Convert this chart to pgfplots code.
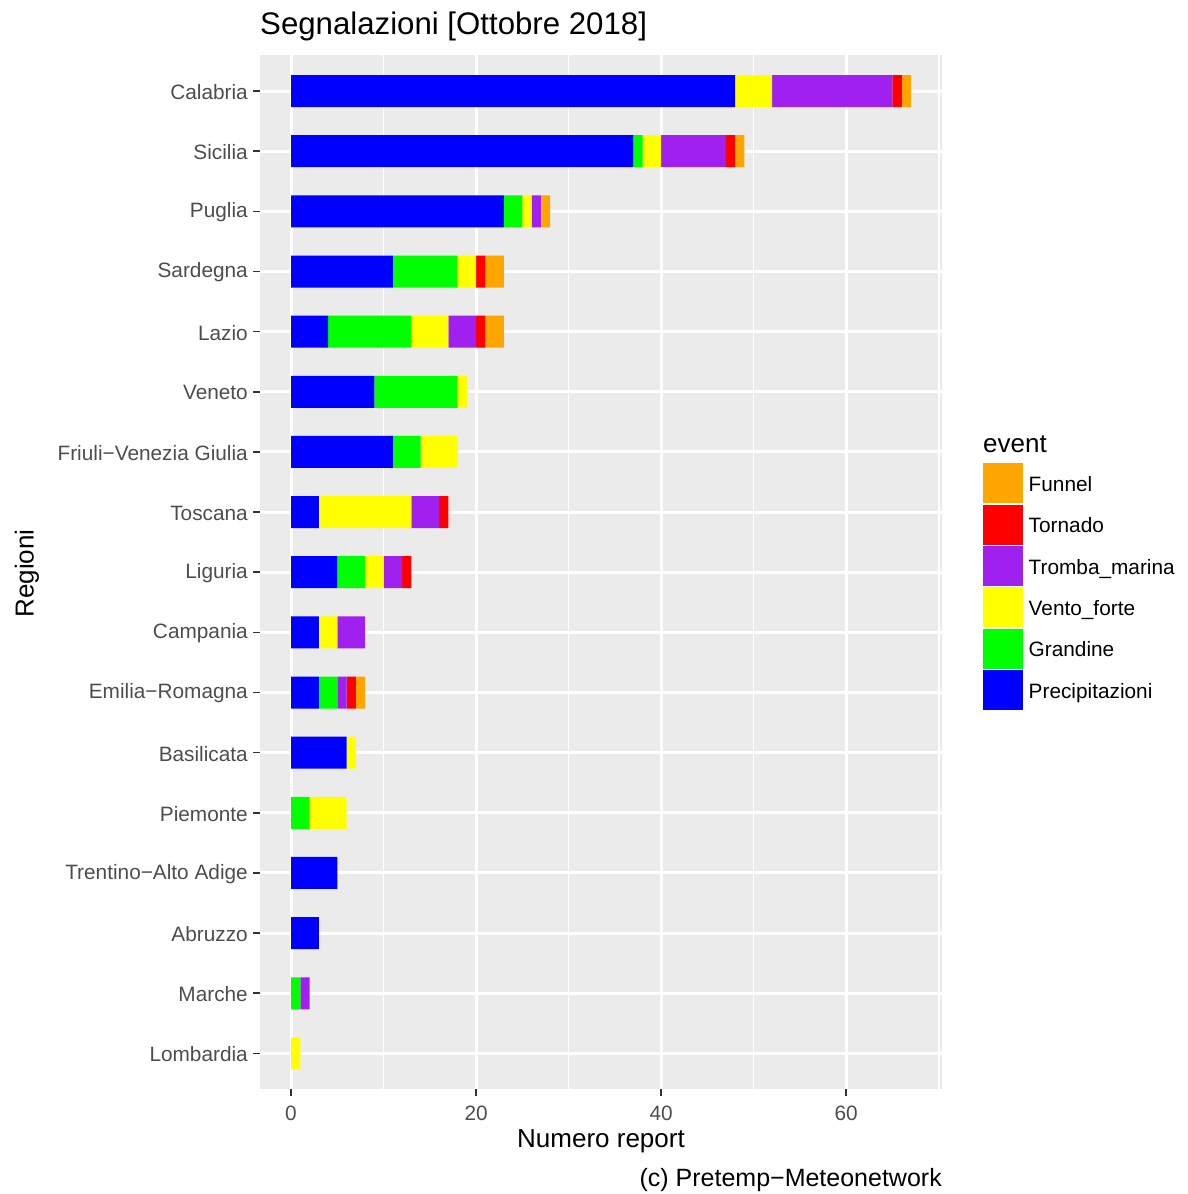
\documentclass[border=0pt]{standalone}
\usepackage{fontspec}
\setmainfont{Liberation Sans}
\usepackage{pgfplots}
\usepackage{pgfplotstable}
\pgfplotsset{compat=1.18}

\definecolor{panel}{RGB}{235,235,235}
\definecolor{tickgrey}{RGB}{51,51,51}
\definecolor{labgrey}{RGB}{77,77,77}
\definecolor{cPrec}{RGB}{0,0,255}
\definecolor{cGrand}{RGB}{0,255,0}
\definecolor{cVento}{RGB}{255,255,0}
\definecolor{cTromba}{RGB}{160,32,240}
\definecolor{cTorn}{RGB}{255,0,0}
\definecolor{cFunnel}{RGB}{255,165,0}

% y: 1 = Lombardia ... 17 = Calabria
% P=Precipitazioni G=Grandine V=Vento_forte T=Tromba_marina R=Tornado F=Funnel
\pgfplotstableread{
y  P  G  V  T  R  F
17 48 0  4  13 1  1
16 37 1  2  7  1  1
15 23 2  1  1  0  1
14 11 7  2  0  1  2
13 4  9  4  3  1  2
12 9  9  1  0  0  0
11 11 3  4  0  0  0
10 3  0  10 3  1  0
9  5  3  2  2  1  0
8  3  0  2  3  0  0
7  3  2  0  1  1  1
6  6  0  1  0  0  0
5  0  2  4  0  0  0
4  5  0  0  0  0  0
3  3  0  0  0  0  0
2  0  1  0  1  0  0
1  0  0  1  0  0  0
}\regioni

\newcommand{\fs}[1]{\fontsize{#1}{#1}\selectfont}

\begin{document}
\begin{tikzpicture}
\begin{axis}[
  at={(260pt,104.5pt)}, anchor=south west,
  scale only axis, width=682pt, height=1034.5pt,
  xbar stacked, bar width=32pt,
  xmin=-3.35, xmax=70.35, ymin=0.4, ymax=17.6,
  axis background/.style={fill=panel},
  axis line style={draw=none},
  xtick={0,20,40,60}, minor xtick={10,30,50,70},
  ytick={1,...,17},
  yticklabels={Lombardia,Marche,Abruzzo,Trentino−Alto Adige,Piemonte,Basilicata,Emilia−Romagna,Campania,Liguria,Toscana,Friuli−Venezia Giulia,Veneto,Lazio,Sardegna,Puglia,Sicilia,Calabria},
  tick pos=left, tick align=outside,
  major tick length=7pt, minor tick length=0pt,
  tick style={tickgrey, line width=1.6pt},
  xmajorgrids, ymajorgrids, xminorgrids,
  major grid style={white, line width=3pt},
  minor grid style={white, line width=1.6pt},
  /pgf/number format/assume math mode=true,
  ticklabel style={font=\fs{20.8}, text=labgrey, inner sep=0pt},
  yticklabel style={anchor=east, xshift=-5pt, yshift=-1pt},
  xticklabel style={anchor=base, yshift=-24pt},
  reverse legend,
  legend image code/.code={\fill[#1] (0pt,-18.5pt) rectangle (40pt,21.5pt);},
  legend style={draw=none, fill=none, inner sep=0pt, outer sep=0pt,
    row sep=1.3pt, column sep=6pt, font=\fs{20.8},
    nodes={inner sep=0pt},
    at={(1.0597,0.6053)}, anchor=north west},
  legend cell align=left,
]
\addplot[fill=cPrec, draw=none] table[x=P, y=y] {\regioni};
\addlegendentry{Precipitazioni}
\addplot[fill=cGrand, draw=none] table[x=G, y=y] {\regioni};
\addlegendentry{Grandine}
\addplot[fill=cVento, draw=none] table[x=V, y=y] {\regioni};
\addlegendentry{Vento\_forte}
\addplot[fill=cTromba, draw=none] table[x=T, y=y] {\regioni};
\addlegendentry{Tromba\_marina}
\addplot[fill=cTorn, draw=none] table[x=R, y=y] {\regioni};
\addlegendentry{Tornado}
\addplot[fill=cFunnel, draw=none] table[x=F, y=y] {\regioni};
\addlegendentry{Funnel}
\end{axis}

\node[anchor=base west, inner sep=0pt, font=\fs{31.2}] at (260pt,1159pt) {Segnalazioni [Ottobre 2018]};
\node[anchor=base, inner sep=0pt, font=\fs{26}] at (601pt,46.3pt) {Numero report};
\node[anchor=base east, inner sep=0pt, font=\fs{25}] at (942pt,8pt) {(c) Pretemp−Meteonetwork};
\node[rotate=90, anchor=base, inner sep=0pt, font=\fs{26}] at (33.6pt,620.5pt) {Regioni};
\node[anchor=base west, inner sep=0pt, font=\fs{26}] at (983pt,741pt) {event};

\pgfresetboundingbox
\path (0pt,0pt) rectangle (1187pt,1194pt);
\end{tikzpicture}
\end{document}
